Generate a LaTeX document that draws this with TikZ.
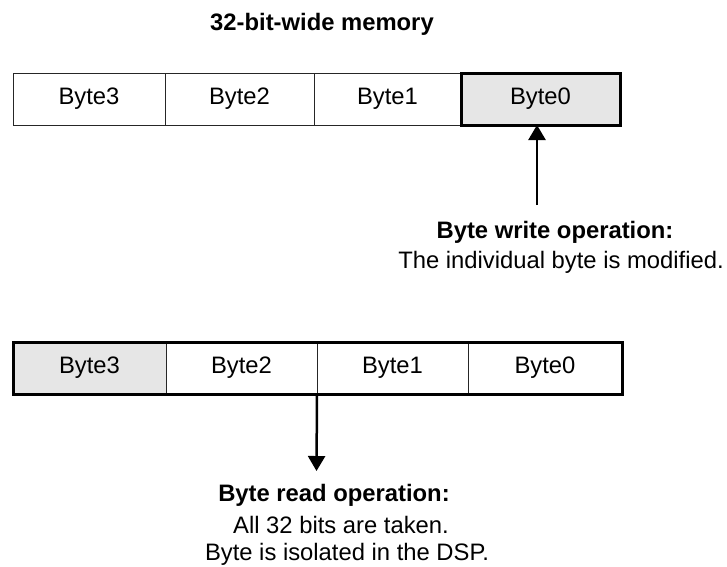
\documentclass[tikz,border=0pt]{standalone}
\usepackage{fontspec}
\setmainfont{Liberation Sans}
\usetikzlibrary{arrows.meta}
\definecolor{cellgray}{HTML}{E6E6E6}
\tikzset{
  cell/.style={draw=black!85, line width=1pt, inner sep=0pt, outer sep=0pt,
    minimum height=52pt, font=\fontsize{23.8}{28}\selectfont},
  hot/.style={fill=cellgray},
  thickbox/.style={line width=3pt},
  lbl/.style={inner sep=0pt, anchor=base, font=\fontsize{23.8}{28}\selectfont},
  blbl/.style={lbl, font=\fontsize{23.8}{28}\selectfont\bfseries},
  arr/.style={line width=2.5pt, -{Triangle[width=17pt,length=15pt]}}
}
\begin{document}
\begin{tikzpicture}[x=1pt,y=1pt]
\useasboundingbox (0,0) rectangle (727,-566);
% title
\node[blbl] (title) at (322,-30) {32-bit-wide memory};
% top row
\node[cell, minimum width=152pt] (t3) at (89,-99) {Byte3};
\node[cell, minimum width=149pt] (t2) at (239.5,-99) {Byte2};
\node[cell, minimum width=147pt] (t1) at (387.5,-99) {Byte1};
\node[cell, hot, thickbox, draw=black, minimum width=159pt] (t0) at (540.5,-99) {Byte0};
% write arrow
\coordinate (wstart) at (537,-205);
\draw[arr] (wstart) -- (t0.south -| wstart);
\node[blbl] (wtitle) at (555,-238) {Byte write operation:};
\node[lbl] (wtext) at (561,-268) {The individual byte is modified.};
% bottom row
\node[cell, hot, minimum width=153pt] (b3) at (89.5,-368) {Byte3};
\node[cell, minimum width=151pt] (b2) at (241.5,-368) {Byte2};
\node[cell, minimum width=151pt] (b1) at (392.5,-368) {Byte1};
\node[cell, minimum width=154pt] (b0) at (545,-368) {Byte0};
\draw[line width=3pt] (b3.north west) rectangle (b0.south east);
% read arrow
\coordinate (rend) at (316.5,-471);
\draw[arr] (b2.south east) -- (rend);
\node[blbl] (rtitle) at (334,-501) {Byte read operation:};
\node[lbl] (rtext1) at (341,-533) {All 32 bits are taken.};
\node[lbl] (rtext2) at (347,-560) {Byte is isolated in the DSP.};
\end{tikzpicture}
\end{document}
